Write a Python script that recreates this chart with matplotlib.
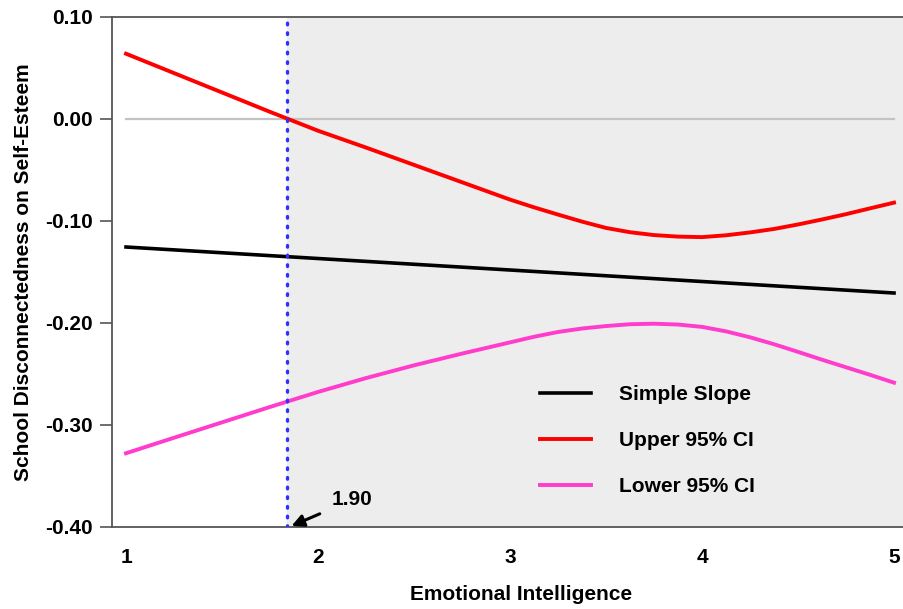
import numpy as np
import matplotlib
matplotlib.use('Agg')
import matplotlib.pyplot as plt

plt.rcParams['font.family'] = ['Liberation Sans', 'DejaVu Sans']
plt.rcParams['font.weight'] = 'bold'

# values
ei = [1.0, 1.25, 1.5, 1.75, 2.0, 2.25, 2.5, 2.75,
      3.0, 3.125, 3.25, 3.375, 3.5, 3.625, 3.75, 3.875,
      4.0, 4.125, 4.25, 4.375, 4.5, 4.625, 4.75, 4.875, 5.0]
upper_ci = [0.064, 0.045, 0.026, 0.007, -0.0115, -0.028, -0.045, -0.062,
            -0.079, -0.0866, -0.0937, -0.1006, -0.1068, -0.1110, -0.1138, -0.1153,
            -0.1158, -0.1140, -0.1112, -0.1078, -0.1034, -0.0985, -0.0933, -0.0876, -0.082]
lower_ci = [-0.3277, -0.3125, -0.2974, -0.2823, -0.2676, -0.2540, -0.2415, -0.2300,
            -0.2190, -0.2135, -0.2088, -0.2054, -0.2030, -0.2012, -0.2007, -0.2015,
            -0.2038, -0.2082, -0.2140, -0.2208, -0.2283, -0.2360, -0.2434, -0.2508, -0.2585]
slope_x = [1.0, 5.0]
slope_y = [-0.1255, -0.1706]
jn_point = 1.84
jn_label = '1.90'
yticks = [0.10, 0.00, -0.10, -0.20, -0.30, -0.40]
xticks = [1, 2, 3, 4, 5]

fig = plt.figure(figsize=(9.04, 6.09), dpi=100)
ax = fig.add_axes([112/904, 1-527/609, 792/904, 510/609])

xmin, xmax = 0.927, 5.052
ax.set_xlim(xmin, xmax)
ax.set_ylim(-0.40, 0.10)

# shaded region of significance
ax.axvspan(jn_point, xmax, color='#ededed', zorder=0, lw=0)
ax.plot([1, 5], [0, 0], color='#c3c3c3', lw=1.6, zorder=1)
ax.axvline(jn_point, color='#3030ff', lw=2.4, ls=(0, (0.5, 2.4)), dash_capstyle='round', zorder=3)

ax.plot(slope_x, slope_y, color='black', lw=2.6, label='Simple Slope', zorder=2)
ax.plot(ei, upper_ci, color='#ff0000', lw=2.8, label='Upper 95% CI', zorder=2)
ax.plot(ei, lower_ci, color='#ff3ccc', lw=2.8, label='Lower 95% CI', zorder=2)

ax.annotate(jn_label, xy=(1.862, -0.399), xytext=(2.07, -0.3735),
            fontsize=15, fontweight='bold', va='center', ha='left',
            arrowprops=dict(arrowstyle='-|>', color='black', lw=2.2,
                            shrinkA=7, shrinkB=0, mutation_scale=18))

ax.set_yticks(yticks)
ax.set_yticklabels(['%.2f' % v for v in yticks])
ax.set_xticks(xticks)
ax.tick_params(axis='y', length=9, width=1.2, color='#555555', pad=5, labelsize=15)
ax.tick_params(axis='x', length=0, pad=15, labelsize=15)

for s in ['left', 'bottom', 'top']:
    ax.spines[s].set_color('#555555')
    ax.spines[s].set_linewidth(1.3)
ax.spines['right'].set_visible(False)

ax.set_xlabel('Emotional Intelligence', fontsize=15, fontweight='bold')
ax.xaxis.set_label_coords(0.516, -0.113)
ax.set_ylabel('School Disconnectedness on Self-Esteem', fontsize=15, fontweight='bold')
ax.yaxis.set_label_coords(-0.100, 0.5)

leg = ax.legend(loc='upper left', bbox_to_anchor=(0.540, 0.278), frameon=False,
                fontsize=15, handlelength=2.45, handletextpad=1.35,
                labelspacing=1.3, borderpad=0, borderaxespad=0)

fig.savefig('out.png', dpi=100)
